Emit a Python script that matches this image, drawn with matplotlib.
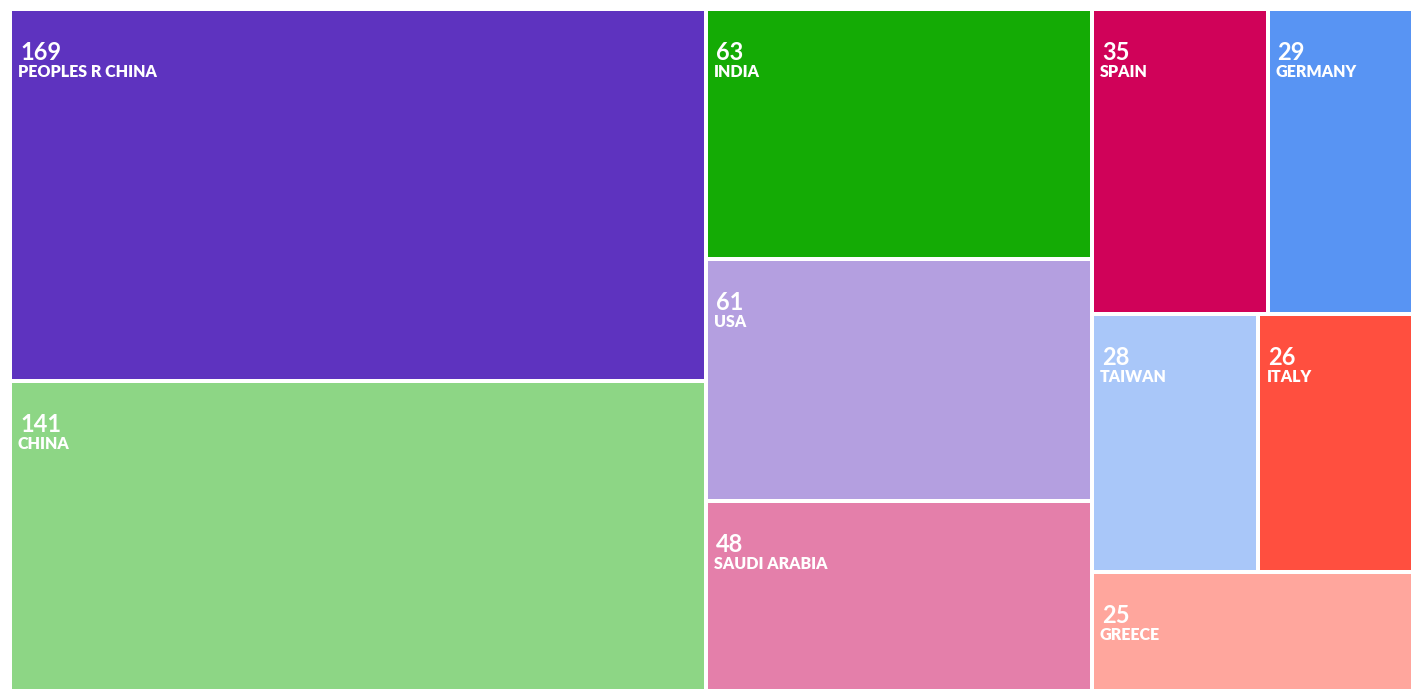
import math
import matplotlib
matplotlib.use("Agg")
import matplotlib.pyplot as plt
from matplotlib.patches import Rectangle

# ---- data ----
countries = ["PEOPLES R CHINA", "CHINA", "INDIA", "USA", "SAUDI ARABIA",
             "SPAIN", "GERMANY", "TAIWAN", "ITALY", "GREECE"]
counts = [169, 141, 63, 61, 48, 35, 29, 28, 26, 25]
colors = ["#5e33bf", "#8dd685", "#14ab05", "#b49fe0", "#e47faa",
          "#d00259", "#5894f3", "#a9c7f9", "#ff4f3f", "#ffa69d"]

# ---- figure geometry (pixel coordinates) ----
FIG_W, FIG_H = 1420, 700
X0, Y0, W, H = 10, 9, 1403, 682
HALF_GAP = 2
RATIO = 0.5 * (1 + math.sqrt(5))


def worst(areas, fixed):
    s = sum(areas)
    if s == 0:
        return float("inf")
    f = fixed * fixed * RATIO
    return max(f * max(areas) / (s * s), (s * s) / (f * min(areas)))


def squarify(values, x, y, w, h):
    total = sum(values)
    areas = [v / total * w * h for v in values]
    rect = {"x": x, "y": y, "w": w, "h": h}
    out = []
    i = 0
    while i < len(areas):
        fixed = min(rect["w"], rect["h"])
        row = [areas[i]]
        j = i + 1
        best = worst(row, fixed)
        while j < len(areas):
            cand = row + [areas[j]]
            sc = worst(cand, fixed)
            if sc <= best:
                row = cand
                best = sc
                j += 1
            else:
                break
        flush = j >= len(areas)
        row_area = sum(row)
        horizontal_fixed = (fixed == rect["w"])
        other_len = row_area / fixed
        if horizontal_fixed:
            if flush or other_len > rect["h"]:
                other_len = rect["h"]
            last = rect["x"]
            for k, a in enumerate(row):
                step = a / other_len
                if k == len(row) - 1:
                    step = rect["x"] + rect["w"] - last
                out.append((last, rect["y"], step, other_len))
                last += step
            rect["y"] += other_len
            rect["h"] -= other_len
        else:
            if flush or other_len > rect["w"]:
                other_len = rect["w"]
            last = rect["y"]
            for k, a in enumerate(row):
                step = a / other_len
                if k == len(row) - 1:
                    step = rect["y"] + rect["h"] - last
                out.append((rect["x"], last, other_len, step))
                last += step
            rect["x"] += other_len
            rect["w"] -= other_len
        i = j
    return out


plt.rcParams["font.family"] = ["Lato", "DejaVu Sans"]
fig = plt.figure(figsize=(FIG_W / 100, FIG_H / 100), dpi=100)
ax = fig.add_axes([0, 0, 1, 1])
ax.set_xlim(0, FIG_W)
ax.set_ylim(FIG_H, 0)
ax.axis("off")

cells = squarify(counts, X0, Y0, W, H)
for (cx, cy, cw, ch), name, val, col in zip(cells, countries, counts, colors):
    tx, ty = cx + HALF_GAP, cy + HALF_GAP
    tw, th = cw - 2 * HALF_GAP, ch - 2 * HALF_GAP
    ax.add_patch(Rectangle((tx, ty), tw, th, facecolor=col, edgecolor="none"))
    ax.text(tx + 8, ty + 49, str(val), color="white", fontsize=17,
            fontweight="bold", ha="left", va="baseline")
    ax.text(tx + 6, ty + 66, name, color="white", fontsize=11.5,
            fontweight="heavy", ha="left", va="baseline")

fig.savefig("out.png", dpi=100, facecolor="white")
